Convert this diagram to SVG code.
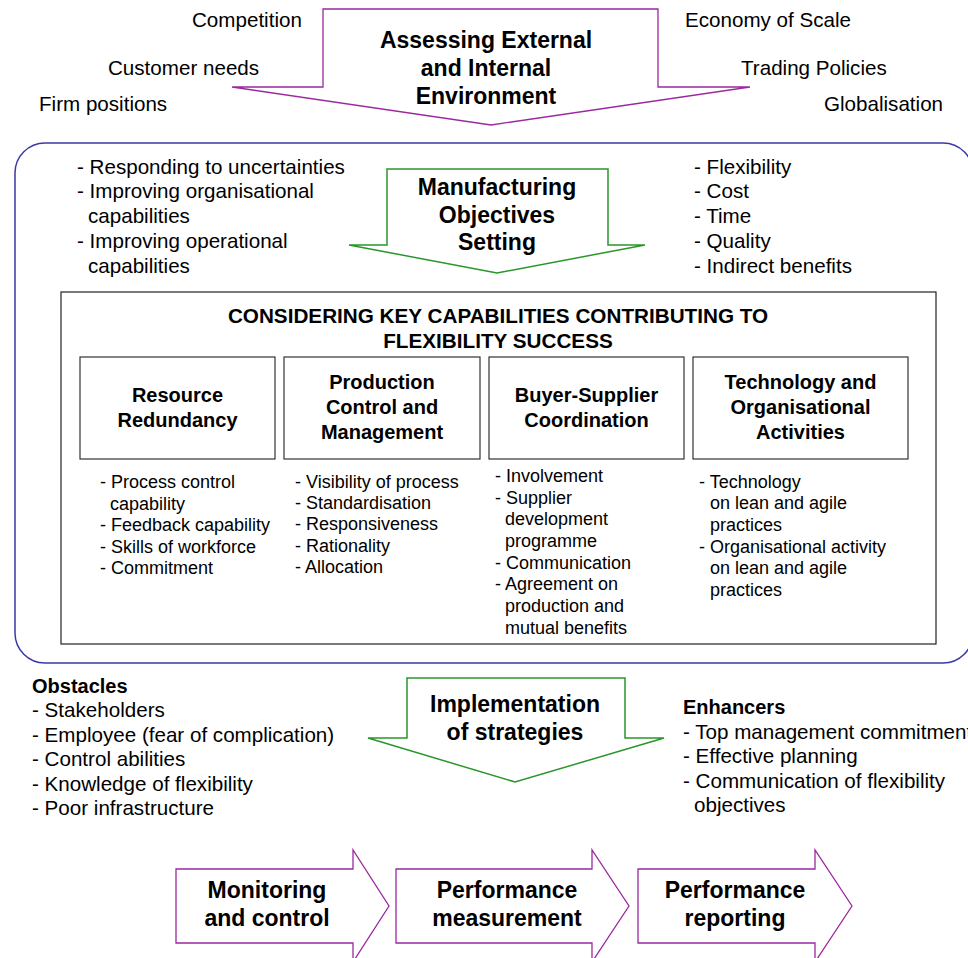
<svg xmlns="http://www.w3.org/2000/svg" width="968" height="958" viewBox="0 0 968 958">
  <style>
    text { font-family: "Liberation Sans", Arial, sans-serif; fill: #000; }
    .t20 { font-size: 20.6px; }
    .t18 { font-size: 18px; }
    .b20 { font-size: 20px; font-weight: bold; }
    .head { font-size: 20.7px; font-weight: bold; }
    .b23 { font-size: 23px; font-weight: bold; }
    .mid { text-anchor: middle; }
    .purple { fill: #fff; stroke: #9b2a9e; stroke-width: 1.3; }
    .green { fill: #fff; stroke: #2a962a; stroke-width: 1.5; }
    .frame { fill: none; stroke: #3a3aa6; stroke-width: 1.5; }
    .box { fill: #fff; stroke: #333; stroke-width: 1.2; }
  </style>

  <!-- outer frame around objectives and capabilities -->
  <g id="frame">
    <rect class="frame" x="15" y="143" width="958" height="520" rx="30" ry="30"/>
  </g>

  <!-- environment assessment -->
  <g id="environment">
    <polygon class="purple" points="323,9 658,9 658,87 750,87 491,125 232,87 323,87"/>
    <text class="b23 mid" x="486" y="48">Assessing External</text>
    <text class="b23 mid" x="486" y="76">and Internal</text>
    <text class="b23 mid" x="486" y="104">Environment</text>
  </g>
  <g id="environment-factors">
    <text class="t20" x="192" y="27">Competition</text>
    <text class="t20" x="108" y="75">Customer needs</text>
    <text class="t20" x="39" y="111">Firm positions</text>
    <text class="t20" x="685" y="27">Economy of Scale</text>
    <text class="t20" x="741" y="75">Trading Policies</text>
    <text class="t20" x="824" y="111">Globalisation</text>
  </g>

  <!-- objectives setting -->
  <g id="objectives">
    <polygon class="green" points="387,169 608,169 608,245 645,245 497,273 349,245 387,245"/>
    <text class="b23 mid" x="497" y="195">Manufacturing</text>
    <text class="b23 mid" x="497" y="223">Objectives</text>
    <text class="b23 mid" x="497" y="250">Setting</text>
  </g>
  <g id="objectives-aims">
    <text class="t20" x="77" y="174">- Responding to uncertainties</text>
    <text class="t20" x="77" y="198">- Improving organisational</text>
    <text class="t20" x="88" y="223">capabilities</text>
    <text class="t20" x="77" y="248">- Improving operational</text>
    <text class="t20" x="88" y="273">capabilities</text>
  </g>
  <g id="objectives-measures">
    <text class="t20" x="694" y="174">- Flexibility</text>
    <text class="t20" x="694" y="198">- Cost</text>
    <text class="t20" x="694" y="223">- Time</text>
    <text class="t20" x="694" y="248">- Quality</text>
    <text class="t20" x="694" y="273">- Indirect benefits</text>
  </g>

  <!-- key capabilities -->
  <g id="capabilities">
    <rect x="61" y="292" width="875" height="352" fill="#fff" stroke="#222" stroke-width="1.2"/>
    <text class="head mid" x="498" y="323">CONSIDERING KEY CAPABILITIES CONTRIBUTING TO</text>
    <text class="head mid" x="498" y="348">FLEXIBILITY SUCCESS</text>
  </g>

  <g id="resource-redundancy">
    <rect class="box" x="80" y="357" width="195" height="102"/>
    <text class="b20 mid" x="177.5" y="402">Resource</text>
    <text class="b20 mid" x="177.5" y="427">Redundancy</text>
    <text class="t18" x="100" y="488">- Process control</text>
    <text class="t18" x="110" y="510">capability</text>
    <text class="t18" x="100" y="531">- Feedback capability</text>
    <text class="t18" x="100" y="553">- Skills of workforce</text>
    <text class="t18" x="100" y="574">- Commitment</text>
  </g>

  <g id="production-control">
    <rect class="box" x="284" y="357" width="196" height="102"/>
    <text class="b20 mid" x="382" y="389">Production</text>
    <text class="b20 mid" x="382" y="414">Control and</text>
    <text class="b20 mid" x="382" y="439">Management</text>
    <text class="t18" x="295" y="488">- Visibility of process</text>
    <text class="t18" x="295" y="509">- Standardisation</text>
    <text class="t18" x="295" y="530">- Responsiveness</text>
    <text class="t18" x="295" y="552">- Rationality</text>
    <text class="t18" x="295" y="573">- Allocation</text>
  </g>

  <g id="buyer-supplier">
    <rect class="box" x="489" y="357" width="195" height="102"/>
    <text class="b20 mid" x="586.5" y="402">Buyer-Supplier</text>
    <text class="b20 mid" x="586.5" y="427">Coordination</text>
    <text class="t18" x="495" y="482">- Involvement</text>
    <text class="t18" x="495" y="504">- Supplier</text>
    <text class="t18" x="505" y="525">development</text>
    <text class="t18" x="505" y="547">programme</text>
    <text class="t18" x="495" y="569">- Communication</text>
    <text class="t18" x="495" y="590">- Agreement on</text>
    <text class="t18" x="505" y="612">production and</text>
    <text class="t18" x="505" y="634">mutual benefits</text>
  </g>

  <g id="technology-organisation">
    <rect class="box" x="693" y="357" width="215" height="102"/>
    <text class="b20 mid" x="800.5" y="389">Technology and</text>
    <text class="b20 mid" x="800.5" y="414">Organisational</text>
    <text class="b20 mid" x="800.5" y="439">Activities</text>
    <text class="t18" x="699" y="488">- Technology</text>
    <text class="t18" x="710" y="509">on lean and agile</text>
    <text class="t18" x="710" y="531">practices</text>
    <text class="t18" x="699" y="553">- Organisational activity</text>
    <text class="t18" x="710" y="574">on lean and agile</text>
    <text class="t18" x="710" y="596">practices</text>
  </g>

  <!-- implementation -->
  <g id="implementation">
    <polygon class="green" points="407,678 625,678 625,738 664,738 515,782 368,738 407,738"/>
    <text class="b23 mid" x="515" y="712">Implementation</text>
    <text class="b23 mid" x="515" y="740">of strategies</text>
  </g>
  <g id="obstacles">
    <text class="b20" x="32" y="693">Obstacles</text>
    <text class="t20" x="32" y="717">- Stakeholders</text>
    <text class="t20" x="32" y="742">- Employee (fear of complication)</text>
    <text class="t20" x="32" y="766">- Control abilities</text>
    <text class="t20" x="32" y="791">- Knowledge of flexibility</text>
    <text class="t20" x="32" y="815">- Poor infrastructure</text>
  </g>
  <g id="enhancers">
    <text class="b20" x="683" y="714">Enhancers</text>
    <text class="t20" x="683" y="739">- Top management commitment</text>
    <text class="t20" x="683" y="763">- Effective planning</text>
    <text class="t20" x="683" y="788">- Communication of flexibility</text>
    <text class="t20" x="694" y="812">objectives</text>
  </g>

  <!-- follow-up stages -->
  <g id="monitoring">
    <polygon class="purple" points="176,869 353,869 353,850 389,906 353,962 353,943 176,943"/>
    <text class="b23 mid" x="267" y="898">Monitoring</text>
    <text class="b23 mid" x="267" y="926">and control</text>
  </g>
  <g id="measurement">
    <polygon class="purple" points="396,869 592,869 592,850 629,906 592,962 592,943 396,943"/>
    <text class="b23 mid" x="507" y="898">Performance</text>
    <text class="b23 mid" x="507" y="926">measurement</text>
  </g>
  <g id="reporting">
    <polygon class="purple" points="638,869 815,869 815,850 852,906 815,962 815,943 638,943"/>
    <text class="b23 mid" x="735" y="898">Performance</text>
    <text class="b23 mid" x="735" y="926">reporting</text>
  </g>
</svg>
